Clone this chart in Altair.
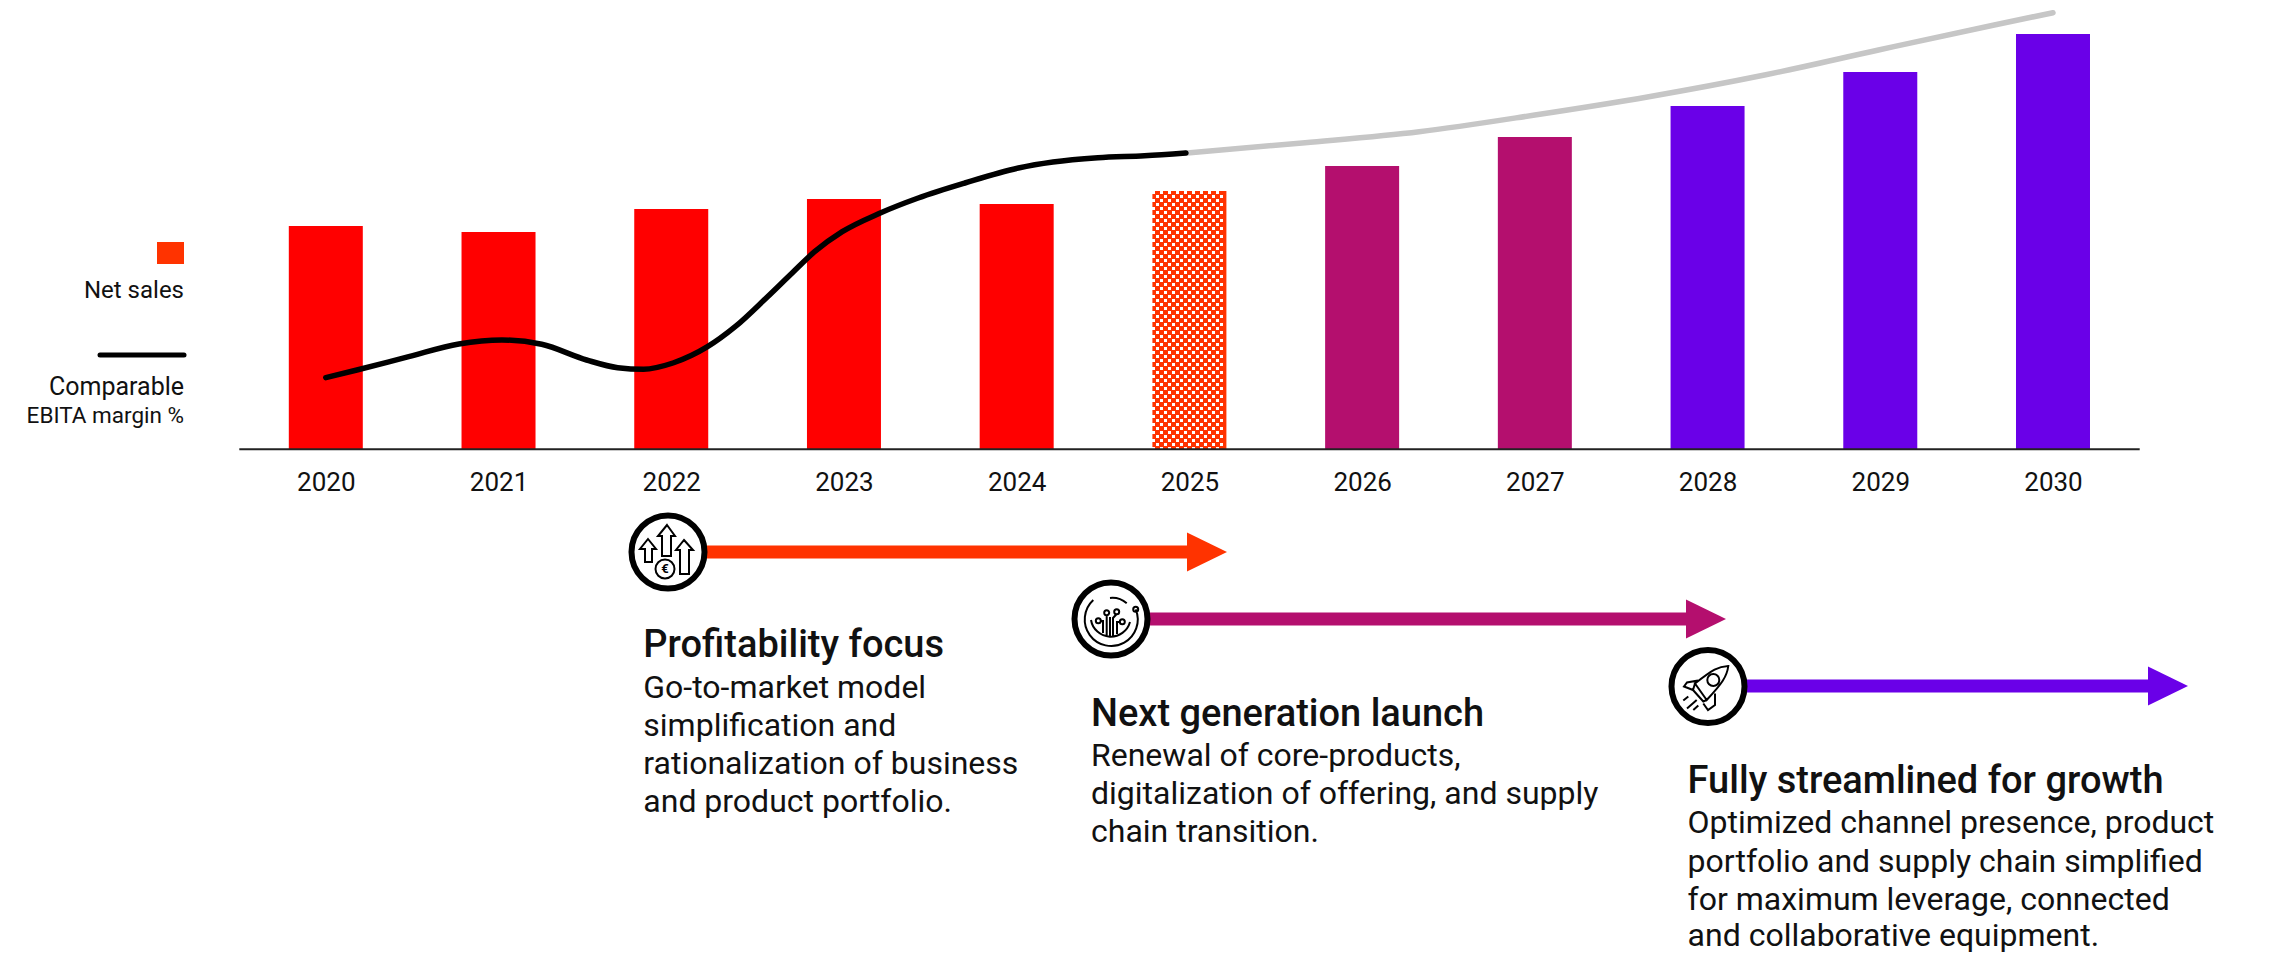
import altair as alt
import pandas as pd

years = [2020, 2021, 2022, 2023, 2024, 2025, 2026, 2027, 2028, 2029, 2030]
net_sales = [223, 217, 240, 250, 245, 258, 283, 312, 343, 377, 415]
bar_colors = ["#FF0000"] * 5 + ["#FF3300"] + ["#B40F6E"] * 2 + ["#6A00E8"] * 3

margin_years = [2020.0, 2020.18, 2020.48, 2020.77, 2021.02, 2021.25, 2021.51, 2021.69, 2021.84, 2022.01,
                2022.21, 2022.37, 2022.55, 2022.70, 2022.83, 2022.99, 2023.21, 2023.43, 2023.70, 2024.01,
                2024.21, 2024.47, 2024.74, 2024.98]
margin_values = [71.3, 79, 92.3, 105, 109, 104.7, 89, 81.3, 79.7, 86,
                 102.3, 122.3, 151, 176, 197.3, 217.3, 236, 251, 266, 281,
                 287, 291.3, 293.3, 296]
target_years = [2024.98, 2025.67, 2026.33, 2027.0, 2027.66, 2028.33, 2028.99, 2029.66, 2030.0]
target_values = [296, 306.3, 317.3, 334, 352.3, 374, 399, 424, 436.3]

FONT = "Roboto"
INK = "#111111"
W, H = 2240, 945


def px(v):
    return alt.value(v - 8)


x_enc = alt.X("year:Q", title=None,
              scale=alt.Scale(domain=[2018.16, 2031.129], range=[0, W], nice=False, zero=False, padding=0),
              axis=alt.Axis(values=years, format="d", domain=False, ticks=False, grid=False, tickSize=0,
                            offset=-504, labelPadding=33, labelBaseline="middle", labelFontSize=26,
                            labelFont=FONT, labelColor=INK, labelFlush=False, labelOverlap=False))
y_enc = alt.Y("value:Q", title=None, axis=None,
              scale=alt.Scale(domain=[-504, 441], range=[H, 0], nice=False, zero=False, padding=0))

bars_df = pd.DataFrame({"year": years, "value": net_sales, "c": bar_colors})
layers = []

layers.append(alt.Chart(bars_df).mark_bar(size=74).encode(x=x_enc, y=y_enc, y2=alt.datum(0),
                                                          color=alt.Color("c:N", scale=None)))

# checker texture of the 2025 bar
for k, start in enumerate((1152, 1156)):
    cols = pd.DataFrame({"px": [c - 8 + 1.5 for c in range(start, 1224, 8)]})
    layers.append(alt.Chart(cols).mark_rule(color="white", strokeWidth=3, strokeDash=[3, 5],
                                            strokeDashOffset=4 * k).encode(
        x=alt.X("px:Q", scale=None), y=px(191), y2=px(449)))

layers.append(alt.Chart(pd.DataFrame({"year": target_years, "value": target_values}))
              .mark_line(color="#C6C6C6", strokeWidth=5.5, strokeCap="round", interpolate="monotone")
              .encode(x=x_enc, y=y_enc))
layers.append(alt.Chart(pd.DataFrame({"year": margin_years, "value": margin_values}))
              .mark_line(color="#000000", strokeWidth=5.5, strokeCap="round", interpolate="monotone")
              .encode(x=x_enc, y=y_enc))

# baseline
layers.append(alt.Chart().mark_rule(color="#222222", strokeWidth=2).encode(x=px(239.3), x2=px(2139.7), y=px(449.3)))

# legend
layers.append(alt.Chart().mark_rect(color="#FF3300").encode(x=px(157), x2=px(184), y=px(242), y2=px(264)))
layers.append(alt.Chart().mark_rule(color="#000000", strokeWidth=5, strokeCap="round").encode(
    x=px(100), x2=px(184), y=px(355)))


def text(s, x, y, size, align="left", weight=400, color=INK):
    return alt.Chart().mark_text(text=s, font=FONT, fontSize=size, align=align, baseline="alphabetic",
                                 fontWeight=weight, color=color).encode(x=px(x), y=px(y))


layers += [text("Net sales", 184, 298, 24, "right"),
           text("Comparable", 184, 395, 25, "right"),
           text("EBITA margin %", 184, 423, 22.5, "right")]

# roadmap arrows
ARROWS = [(700, 1190, 552, 1207, "#FF3300"), (1145, 1688, 619, 1706, "#B40F6E"), (1742, 2150, 686, 2168, "#6A00E8")]
HEAD = "M-20,-19.5 L20,0 L-20,19.5 Z"
for x0, x1, y, hx, col in ARROWS:
    layers.append(alt.Chart().mark_rule(color=col, strokeWidth=13).encode(x=px(x0), x2=px(x1), y=px(y)))
    layers.append(alt.Chart().mark_point(shape=HEAD, size=4, filled=True, fill=col, stroke=None, opacity=1)
                  .encode(x=px(hx), y=px(y)))

# icon badges
ICONS = [
    (668, 552, "M-20,-13 L-12,-3 L-16,-3 L-16,10 L-23,10 L-23,-3 L-28,-3 Z "
               "M-1,-27 L7,-16 L3,-16 L3,4 L-6,4 L-6,-16 L-10,-16 Z "
               "M16,-12 L25,-2 L21,-2 L21,22 L12,22 L12,-2 L8,-2 Z "
               "M-12.5,17 A9.5,9.5 0 1 1 6.5,17 A9.5,9.5 0 1 1 -12.5,17 Z"),
    (1111, 619, "M24.7,-9.7 A26.5,26.5 0 1 1 -17.7,-19 "
                "M-1,-21 A22,22 0 0 1 15.7,-15.7 "
                "M-20,1 A20,20 0 0 0 19,3 "
                "M-4.3,-4 L-4.3,17 M5.7,-5 L2,-1 L2,17 M-1,-2 L-1,17 "
                "M-10,2 L-8,2 L-8,14 M9,3 L6,3 L6,15 "
                "M-6.8,-6.3 A2.5,2.5 0 1 1 -1.8,-6.3 A2.5,2.5 0 1 1 -6.8,-6.3 Z "
                "M3.2,-7.3 A2.5,2.5 0 1 1 8.2,-7.3 A2.5,2.5 0 1 1 3.2,-7.3 Z "
                "M-15.2,1.7 A2.5,2.5 0 1 1 -10.2,1.7 A2.5,2.5 0 1 1 -15.2,1.7 Z "
                "M8.8,2.7 A2.5,2.5 0 1 1 13.8,2.7 A2.5,2.5 0 1 1 8.8,2.7 Z "
                "M22.2,-9.7 A2.5,2.5 0 1 1 27.2,-9.7 A2.5,2.5 0 1 1 22.2,-9.7 Z"),
    (1708, 686.5, "M20.3,-20.5 C10,-20 5,-17 -13,-3 L-1.3,13.5 C14,-3 19,-10 20.3,-20.5 Z "
                  "M-0.7,-6.5 A6,6 0 1 1 11.3,-6.5 A6,6 0 1 1 -0.7,-6.5 Z "
                  "M-10,-6 L-21,-4 L-24,0 L-15,3.5 M7,7 L7,18.5 L0,23.5 L-4.7,17 "
                  "M-15,3.5 L-4.7,15 L-1.3,13.5 M-15,3.5 L-13,-3 "
                  "M-24.7,14 L-19.7,10 M-21,22 L-11.3,13.5 M-14.7,23.5 L-9.7,19"),
]
for cx, cy, path in ICONS:
    layers.append(alt.Chart().mark_point(shape="circle", size=5329, filled=True, fill="white", stroke="#000000",
                                         strokeWidth=6, opacity=1).encode(x=px(cx), y=px(cy)))
    layers.append(alt.Chart().mark_point(shape=path, size=4, filled=False, stroke="#000000",
                                         strokeWidth=2, opacity=1).encode(x=px(cx), y=px(cy)))
layers.append(alt.Chart().mark_text(text="€", font=FONT, fontSize=13, fontWeight=700, color="#000000",
                                    align="center", baseline="middle").encode(x=px(665), y=px(569)))

# roadmap copy
BLOCKS = [
    (643.3, 657, "Profitability focus",
     ["Go-to-market model", "simplification and", "rationalization of business", "and product portfolio."],
     [697.7, 736, 774, 812]),
    (1091, 726, "Next generation launch",
     ["Renewal of core-products,", "digitalization of offering, and supply", "chain transition."],
     [765.7, 803.7, 841.7]),
    (1687.6, 793, "Fully streamlined for growth",
     ["Optimized channel presence, product", "portfolio and supply chain simplified",
      "for maximum leverage, connected", "and collaborative equipment."],
     [833.3, 871.7, 910, 946]),
]
for x, ty, title, lines, ys in BLOCKS:
    layers.append(text(title, x, ty, 38, weight=500))
    for line, ly in zip(lines, ys):
        layers.append(text(line, x, ly, 32))

chart = (alt.layer(*layers)
         .properties(width=W, height=H, padding=0, background="white", autosize=alt.AutoSizeParams(type="none"))
         .configure_view(stroke=None))

chart.save("out.html", embed_options={"renderer": "svg", "actions": False})
